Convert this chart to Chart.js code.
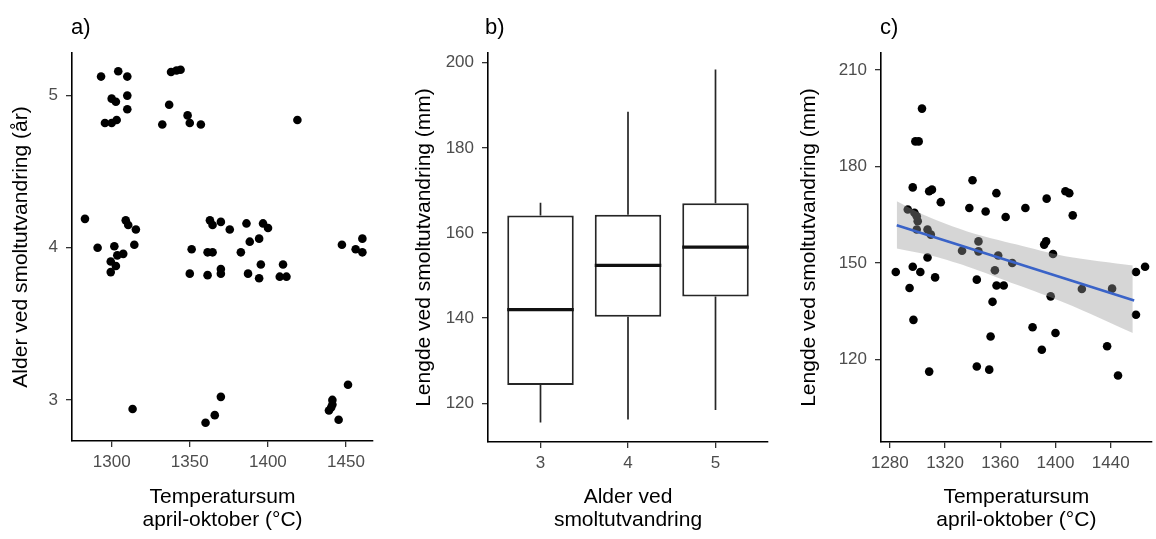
<!DOCTYPE html>
<html>
<head>
<meta charset="utf-8">
<script src="https://cdn.jsdelivr.net/npm/chart.js@4"></script>
<style>
  body { margin: 0; background: #fff; }
  #wrap { position: relative; width: 1156px; height: 539px; font-family: 'Liberation Sans', Arial, sans-serif; }
  #wrap canvas { position: absolute; top: 0; }
  .lbl { position: absolute; top: 16px; font-size: 22px; line-height: 22px; color: #000; }
</style>
</head>
<body>
<div id="wrap">
  <canvas id="chartA" width="390" height="539" style="left:0px"></canvas>
  <canvas id="chartB" width="390" height="539" style="left:390px"></canvas>
  <canvas id="chartC" width="376" height="539" style="left:780px"></canvas>
  <div class="lbl" style="left:71px">a)</div>
  <div class="lbl" style="left:485px">b)</div>
  <div class="lbl" style="left:880px">c)</div>
</div>
<script>
// a) temperatursum vs alder ved smoltutvandring (jittered)
const alderTemp = [
  1293.2, 1304.2, 1310, 1300, 1302.7, 1310, 1310, 1295.7, 1300, 1303.2,
  1338, 1341.5, 1344.1, 1336.8, 1348.6, 1350, 1332.4, 1357.1, 1418.9,
  1282.9, 1291, 1301.7, 1309, 1310.6, 1315.5, 1314.5, 1307.4, 1303.6, 1299.4, 1302.7, 1299.4,
  1351.2, 1350, 1362.9, 1364.6, 1369.9, 1375.6, 1361.4, 1364.6, 1361.4, 1369.9, 1369.9,
  1382.7, 1386.3, 1396.9, 1400.1, 1388.4, 1394.4, 1387.3, 1394.4, 1395.5, 1409.7, 1407.6, 1411.9,
  1447.4, 1456.2, 1460.5, 1460.5,
  1313.4, 1369.9, 1366, 1360.1, 1439.1, 1441.3, 1441.3, 1440.5, 1445.3, 1451.3
];
const alderAar = [
  5.125, 5.16, 5.125, 4.98, 4.96, 5.0, 4.91, 4.82, 4.82, 4.84,
  5.155, 5.165, 5.17, 4.94, 4.87, 4.82, 4.81, 4.81, 4.84,
  4.19, 4.0, 4.01, 4.18, 4.15, 4.12, 4.02, 3.96, 3.95, 3.91, 3.88, 3.84,
  3.99, 3.83, 4.18, 4.15, 4.17, 4.12, 3.97, 3.97, 3.82, 3.86, 3.83,
  3.97, 4.16, 4.16, 4.13, 4.04, 4.06, 3.83, 3.80, 3.89, 3.89, 3.81, 3.81,
  4.02, 3.99, 4.06, 3.97,
  2.94, 3.02, 2.90, 2.85, 2.93, 3.0, 2.97, 2.95, 2.87, 3.10
];

// b) lengde per alder, boxplot
const boxAlder = [3, 4, 5];
const boxMin = [115.5, 116.2, 118.4];
const boxQ1 = [124.3, 140.3, 145.1];
const boxMedian = [142.0, 152.4, 156.7];
const boxQ3 = [164.1, 164.3, 167.0];
const boxMax = [167.1, 188.5, 198.4];

// c) temperatursum vs lengde
const lengdeTemp = [
  1303.3, 1298.5, 1300.9, 1296.6, 1308.5, 1310.5, 1316.9, 1293, 1297.8, 1299.5,
  1300.2, 1299.5, 1307.3, 1309.7, 1307.3, 1284.3, 1296.6, 1302.1, 1312.8, 1294.3,
  1297.1, 1308.5, 1339.9, 1337.6, 1349.4, 1357.2, 1363.9, 1378.2, 1393.6, 1407.2,
  1410, 1412.5, 1344.2, 1344.2, 1332.3, 1358.5, 1368.7, 1356.1, 1343, 1357.3,
  1362.5, 1354.4, 1353, 1343, 1352, 1391.8, 1393.2, 1398.2, 1396.5, 1383.4,
  1400, 1390.1, 1419.1, 1441, 1437.4, 1445.3, 1458.3, 1464.9, 1458.3
];
const lengdeMm = [
  198.0, 187.8, 187.8, 173.5, 172.3, 172.8, 168.9, 166.6, 165.6, 164.5,
  163, 160.4, 160.4, 158.8, 151.7, 147.2, 148.8, 147.2, 145.5, 142.2,
  132.3, 116.2, 175.7, 167.1, 166, 171.7, 164.3, 167.1, 170, 172.3,
  171.7, 164.8, 156.7, 153.6, 153.8, 152.3, 150, 147.7, 144.8, 143,
  143, 137.9, 127.1, 117.8, 116.8, 155.7, 156.7, 152.8, 139.6, 130,
  128.2, 123, 141.9, 142, 124.1, 115, 147.2, 148.8, 133.9
];

// regresjonslinje og konfidensbånd
const trendTemp = [1285, 1457];
const trendMm = [161.7, 138.3];
const baandTemp = [1285, 1307, 1336, 1372, 1407, 1456];
const baandOvre = [169.2, 164.5, 159.8, 155.7, 152.1, 149.2];
const baandNedre = [154.5, 152.6, 148.9, 143.2, 137.5, 128.2];

const fontFam = "'Liberation Sans', Arial, sans-serif";
const tickFont = { family: fontFam, size: 17 };
const titleFont = { family: fontFam, size: 21, lineHeight: 1.1 };

function xAkse(min, max, tickVals, tittel, hoyde) {
  return {
    type: 'linear', min: min, max: max, offset: false,
    afterBuildTicks: s => { s.ticks = tickVals.map(v => ({ value: v })); },
    afterFit: s => { s.height = hoyde; },
    grid: { offset: false, drawOnChartArea: false, drawTicks: true, tickLength: 6, color: '#333', lineWidth: 1.3 },
    border: { display: true, color: '#000', width: 1.6 },
    ticks: { color: '#4d4d4d', font: tickFont, padding: 5, maxRotation: 0, autoSkip: false, callback: v => String(v) },
    title: { display: true, text: tittel, color: '#000', font: titleFont, padding: { top: 0, bottom: 7 } }
  };
}

function yAkse(min, max, tickVals, tittel, bredde, tittelPad) {
  return {
    type: 'linear', min: min, max: max,
    afterBuildTicks: s => { s.ticks = tickVals.map(v => ({ value: v })); },
    afterFit: s => { s.width = bredde; },
    grid: { drawOnChartArea: false, drawTicks: true, tickLength: 6, color: '#333', lineWidth: 1.3 },
    border: { display: true, color: '#000', width: 1.6 },
    ticks: { color: '#4d4d4d', font: tickFont, padding: 8, autoSkip: false, callback: v => String(v) },
    title: { display: true, text: tittel, color: '#000', font: titleFont, padding: { top: tittelPad, bottom: 0 } }
  };
}

const felles = {
  responsive: false,
  animation: false,
  devicePixelRatio: 1,
  plugins: { legend: { display: false }, tooltip: { enabled: false } }
};

// Panel a
new Chart(document.getElementById('chartA'), {
  type: 'scatter',
  data: {
    datasets: [{
      data: alderTemp.map((t, i) => ({ x: t, y: alderAar[i] })),
      backgroundColor: '#000', borderWidth: 0, pointRadius: 4.3
    }]
  },
  options: {
    ...felles,
    layout: { padding: { top: 53, right: 17, left: 0, bottom: 0 } },
    scales: {
      x: xAkse(1274.6, 1467.3, [1300, 1350, 1400, 1450], ['Temperatursum', 'april-oktober (°C)'], 98),
      y: yAkse(2.73, 5.28, [3, 4, 5], 'Alder ved smoltutvandring (år)', 72, 10)
    }
  }
});

// Panel b
const boksBredde = 0.76;
const whiskerData = [];
const medianData = [];
boxAlder.forEach((a, i) => {
  whiskerData.push({ x: a, y: boxMin[i] }, { x: a, y: boxQ1[i] }, { x: a, y: null });
  whiskerData.push({ x: a, y: boxQ3[i] }, { x: a, y: boxMax[i] }, { x: a, y: null });
  medianData.push({ x: a - boksBredde / 2, y: boxMedian[i] }, { x: a + boksBredde / 2, y: boxMedian[i] }, { x: a, y: null });
});

new Chart(document.getElementById('chartB'), {
  type: 'bar',
  data: {
    datasets: [
      {
        type: 'bar',
        data: boxAlder.map((a, i) => ({ x: a, y: [boxQ1[i], boxQ3[i]] })),
        backgroundColor: '#fff', borderColor: '#262626', borderWidth: 2, borderSkipped: false,
        categoryPercentage: 1, barPercentage: boksBredde, order: 2
      },
      {
        type: 'line', data: whiskerData, borderColor: '#262626', borderWidth: 1.7,
        pointRadius: 0, spanGaps: false, fill: false, order: 1
      },
      {
        type: 'line', data: medianData, borderColor: '#111', borderWidth: 3.2,
        pointRadius: 0, spanGaps: false, fill: false, order: 0
      }
    ]
  },
  options: {
    ...felles,
    layout: { padding: { top: 53, right: 12, left: 0, bottom: 0 } },
    scales: {
      x: xAkse(2.4, 5.6, boxAlder, ['Alder ved', 'smoltutvandring'], 97),
      y: yAkse(110.9, 202.3, [120, 140, 160, 180, 200], 'Lengde ved smoltutvandring (mm)', 98, 23)
    }
  }
});

// Panel c
new Chart(document.getElementById('chartC'), {
  type: 'scatter',
  data: {
    datasets: [
      {
        data: lengdeTemp.map((t, i) => ({ x: t, y: lengdeMm[i] })),
        backgroundColor: '#000', borderWidth: 0, pointRadius: 4.3, order: 3
      },
      {
        type: 'line', data: baandTemp.map((t, i) => ({ x: t, y: baandNedre[i] })),
        borderWidth: 0, pointRadius: 0, fill: false, tension: 0.3, order: 2
      },
      {
        type: 'line', data: baandTemp.map((t, i) => ({ x: t, y: baandOvre[i] })),
        borderWidth: 0, pointRadius: 0, fill: '-1', tension: 0.3,
        backgroundColor: 'rgba(153,153,153,0.4)', order: 2
      },
      {
        type: 'line', data: trendTemp.map((t, i) => ({ x: t, y: trendMm[i] })),
        borderColor: '#3a63c8', borderWidth: 2.6, pointRadius: 0, fill: false, order: 1
      }
    ]
  },
  options: {
    ...felles,
    layout: { padding: { top: 53, right: 0, left: 0, bottom: 0 } },
    scales: {
      x: xAkse(1273.6, 1469.7, [1280, 1320, 1360, 1400, 1440], ['Temperatursum', 'april-oktober (°C)'], 97),
      y: yAkse(94.3, 215.3, [120, 150, 180, 210], 'Lengde ved smoltutvandring (mm)', 101, 18)
    }
  }
});
</script>
</body>
</html>
